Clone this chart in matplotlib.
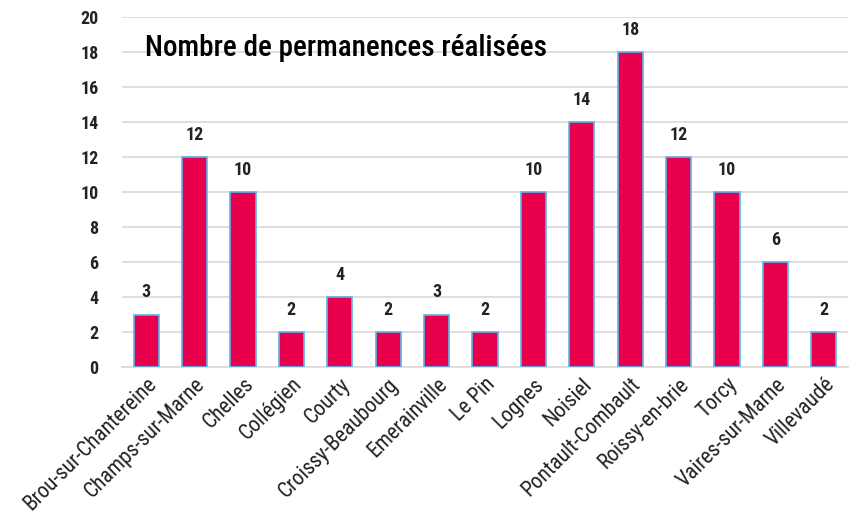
import matplotlib.pyplot as plt
from matplotlib import font_manager

communes = ['Brou-sur-Chantereine', 'Champs-sur-Marne', 'Chelles', 'Collégien', 'Courty',
            'Croissy-Beaubourg', 'Emerainville', 'Le Pin', 'Lognes', 'Noisiel',
            'Pontault-Combault', 'Roissy-en-brie', 'Torcy', 'Vaires-sur-Marne', 'Villevaudé']
permanences = [3, 12, 10, 2, 4, 2, 3, 2, 10, 14, 18, 12, 10, 6, 2]
yticks = list(range(0, 21, 2))

names = sorted({f.name for f in font_manager.fontManager.ttflist})
fam = 'Roboto'
for cand in ['Roboto Condensed', 'Liberation Sans Narrow', 'Open Sans Condensed']:
    if cand in names:
        fam = cand
        break
plt.rcParams['font.family'] = [fam, 'DejaVu Sans']

fig = plt.figure(figsize=(8.58, 5.27), dpi=100)
ax = fig.add_axes([122 / 858, 1 - 367 / 527, 726 / 858, 350 / 527])

x = range(len(communes))
ax.bar(x, permanences, width=0.52, color='#E8004C', edgecolor='#5BB5E8',
       linewidth=1.2, zorder=3)
for xi, v in zip(x, permanences):
    ax.text(xi, v + 0.75, str(v), ha='center', va='bottom', fontsize=13,
            fontweight='bold', color='#222222')

ax.set_xlim(-0.5, len(communes) - 0.5)
ax.set_ylim(0, 20)
ax.set_yticks(yticks)
ax.set_yticklabels([str(t) for t in yticks], fontsize=13, fontweight='bold', color='#222222')
ax.yaxis.grid(True, color='#D9D9D9', linewidth=1.2, zorder=0)
ax.set_axisbelow(True)
for s in ['top', 'right', 'left']:
    ax.spines[s].set_visible(False)
ax.spines['bottom'].set_color('#D9D9D9')
ax.spines['bottom'].set_linewidth(1.2)
ax.tick_params(axis='y', length=0, pad=17)
ax.tick_params(axis='x', length=0, pad=5)
ax.set_xticks(list(x))
ax.set_xticklabels(communes, rotation=45, ha='right', rotation_mode='anchor',
                   fontsize=15.5, color='#222222')

fig.text(145 / 858, 1 - 56 / 527, 'Nombre de permanences réalisées', fontsize=21,
         fontweight='medium', color='black', va='baseline', ha='left')

fig.savefig('out.png', dpi=100)
